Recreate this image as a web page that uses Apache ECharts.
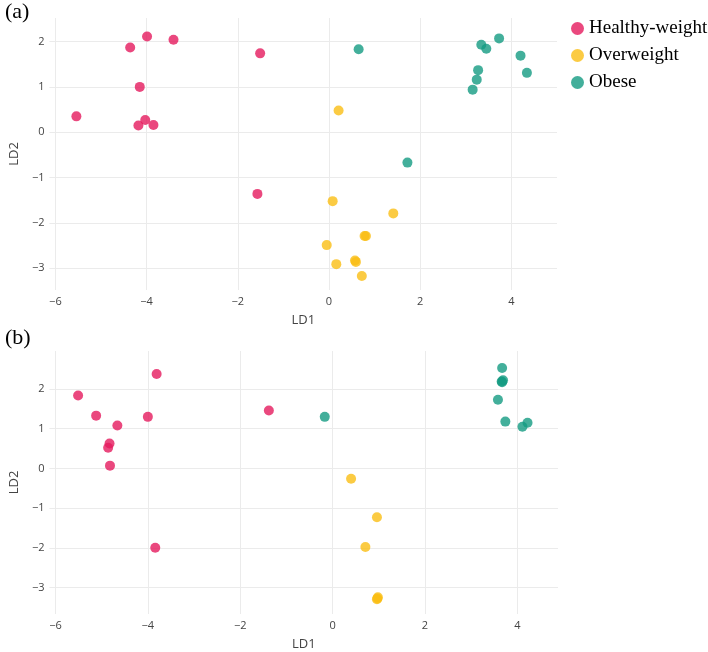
<!DOCTYPE html>
<html>
<head>
<meta charset="utf-8">
<title>LDA</title>
<script src="https://cdn.jsdelivr.net/npm/echarts@6/dist/echarts.min.js"></script>
<style>
  html, body { margin: 0; padding: 0; background: #fff; }
  #chart { width: 708px; height: 652px; }
</style>
</head>
<body>
<div id="chart"></div>
<script>
// panel (a)
const aHealthy = [[-5.54, 0.35], [-4.36, 1.87], [-3.99, 2.11], [-3.41, 2.04], [-4.15, 1.00],
                  [-4.03, 0.27], [-4.18, 0.15], [-3.85, 0.16], [-1.51, 1.74], [-1.57, -1.36]];
const aOver = [[0.21, 0.48], [0.08, -1.52], [-0.05, -2.49], [0.16, -2.91], [0.57, -2.83],
               [0.59, -2.86], [0.72, -3.17], [0.78, -2.29], [0.81, -2.29], [1.41, -1.79]];
const aObese = [[0.65, 1.83], [1.72, -0.67], [3.34, 1.93], [3.45, 1.84], [3.73, 2.07],
                [4.20, 1.69], [4.34, 1.31], [3.27, 1.37], [3.24, 1.16], [3.15, 0.94]];
// panel (b)
const bHealthy = [[-5.51, 1.84], [-5.12, 1.33], [-4.66, 1.08], [-4.83, 0.63], [-4.86, 0.52],
                  [-4.82, 0.07], [-3.81, 2.38], [-4.00, 1.30], [-3.84, -2.00], [-1.38, 1.46]];
const bOver = [[0.40, -0.26], [0.96, -1.23], [0.71, -1.98], [0.96, -3.30], [0.98, -3.25], [0.97, -3.28]];
const bObese = [[-0.17, 1.30], [3.67, 2.53], [3.66, 2.19], [3.69, 2.22], [3.67, 2.17],
                [3.58, 1.73], [3.74, 1.18], [4.11, 1.05], [4.22, 1.15]];

const groups = ['Healthy-weight', 'Overweight', 'Obese'];
const colors = ['#e51a5e', '#fabe14', '#149b82'];
const xTicks = [-6, -4, -2, 0, 2, 4];
const yTicks = [-3, -2, -1, 0, 1, 2];

const chart = echarts.init(document.getElementById('chart'));

const gridCol = '#ebebeb';
const tickFont = { fontFamily: 'Open Sans', fontSize: 11, color: '#444' };
const minus = v => String(v).replace('-', '\u2212');

function xAx(gi, min, max) {
    return {
        type: 'value', gridIndex: gi, min: min, max: max,
        name: 'LD1', nameLocation: 'middle', nameGap: 24,
        nameTextStyle: { fontFamily: 'Open Sans', fontSize: 13, color: '#444' },
        axisLine: { show: false },
        axisTick: { show: false, customValues: xTicks },
        axisLabel: Object.assign({ customValues: xTicks, margin: 6, formatter: minus }, tickFont),
        splitLine: { show: true, lineStyle: { color: gridCol, width: 1 } }
    };
}
function yAx(gi, min, max) {
    return {
        type: 'value', gridIndex: gi, min: min, max: max,
        name: 'LD2', nameLocation: 'middle', nameGap: 26,
        nameTextStyle: { fontFamily: 'Open Sans', fontSize: 13, color: '#444' },
        axisLine: { show: false },
        axisTick: { show: false, customValues: yTicks },
        axisLabel: Object.assign({ customValues: yTicks, margin: 5, formatter: minus }, tickFont),
        splitLine: { show: true, lineStyle: { color: gridCol, width: 1 } }
    };
}
function sc(name, data, xi) {
    const c = colors[groups.indexOf(name)];
    return {
        name: name, type: 'scatter', xAxisIndex: xi, yAxisIndex: xi,
        data: data, symbolSize: 10,
        itemStyle: { color: c, opacity: 0.8 },
        emphasis: { disabled: true }
    };
}

chart.setOption({
    animation: false,
    title: [
        { text: '(a)', left: 0, top: -4, textStyle: { fontFamily: 'Liberation Serif', fontSize: 22, fontWeight: 'normal', color: '#000' } },
        { text: '(b)', left: 0, top: 322, textStyle: { fontFamily: 'Liberation Serif', fontSize: 22, fontWeight: 'normal', color: '#000' } }
    ],
    legend: {
        data: groups, orient: 'vertical', left: 566, top: 14,
        icon: 'circle', itemWidth: 13, itemHeight: 13, itemGap: 8,
        textStyle: { fontFamily: 'Liberation Serif', fontSize: 19, color: '#000' }
    },
    grid: [
        { left: 43, top: 18, width: 514, height: 272 },
        { left: 43, top: 351, width: 515, height: 272 }
    ],
    xAxis: [xAx(0, -6.13, 5.0), xAx(1, -6.13, 4.88)],
    yAxis: [yAx(0, -3.48, 2.52), yAx(1, -3.67, 2.96)],
    series: [
        sc('Healthy-weight', aHealthy, 0), sc('Overweight', aOver, 0), sc('Obese', aObese, 0),
        sc('Healthy-weight', bHealthy, 1), sc('Overweight', bOver, 1), sc('Obese', bObese, 1)
    ]
});
</script>
</body>
</html>
